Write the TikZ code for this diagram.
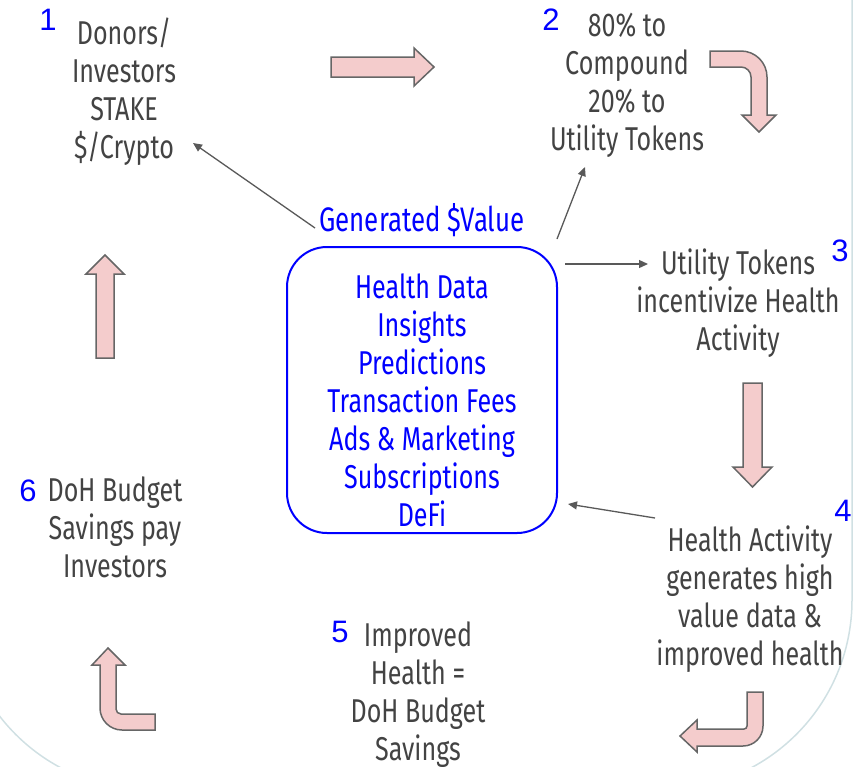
\documentclass[tikz,border=0pt]{standalone}
\usepackage{fontspec}
\usetikzlibrary{arrows.meta}
\newfontfamily\oswf[FakeStretch=0.76]{Fira Sans}
\newfontfamily\numf{Liberation Sans}
\definecolor{txtgray}{HTML}{434343}
\definecolor{pinkfill}{HTML}{F4CCCC}
\definecolor{arrgray}{HTML}{666666}
\definecolor{linegray}{HTML}{595959}
\definecolor{bordercol}{HTML}{D0E0E3}
\definecolor{pureblue}{HTML}{0000FF}
\begin{document}
\begin{tikzpicture}[x=1pt,y=-1pt,
  lbl/.style={font=\oswf\fontsize{33}{38}\selectfont, text=txtgray, align=center, inner sep=0pt, anchor=north},
  bluelbl/.style={lbl, text=pureblue},
  num/.style={font=\numf\fontsize{31}{36}\selectfont, text=pureblue, inner sep=0pt},
  blockarrow/.style={fill=pinkfill, draw=arrgray, line width=1.5pt, line join=miter},
  conn/.style={draw=linegray, line width=1.3pt, -{Triangle[length=9pt,width=8pt]}},
]
\useasboundingbox (0,0) rectangle (861,766);
\begin{scope}
  \clip (0,0) rectangle (861,766);
  \draw[bordercol, line width=1.5pt, rounded corners=190pt] (-40,-400) rectangle (852,790);
\end{scope}

% block arrows
\path[blockarrow] (331,57) -- (414,57) -- (414,48) -- (434,67) -- (414,86) -- (414,77) -- (331,77) -- cycle;
\path[blockarrow] (710,51) -- (741,51) arc (270:360:26) -- (767,115) -- (776,115) -- (759,132) -- (742,115) -- (751,115) -- (751,77) arc (0:-90:10) -- (710,67) -- cycle;
\path[blockarrow] (743,383) -- (762,383) -- (762,467) -- (772,467) -- (752.5,487) -- (733,467) -- (743,467) -- cycle;
\path[blockarrow] (747,692) -- (763,692) -- (763,726) arc (0:90:20) -- (697,746) -- (697,752) -- (680,736) -- (697,720) -- (697,729) -- (744,729) arc (90:0:3) -- cycle;
\path[blockarrow] (155,714) -- (155,730) -- (122,730) arc (90:180:22) -- (100,665) -- (92,665) -- (108,648) -- (125,665) -- (116,665) -- (116,709) arc (180:90:5) -- cycle;
\path[blockarrow] (96,358) -- (96,274) -- (86,274) -- (105,255) -- (124,274) -- (114,274) -- (114,358) -- cycle;

% texts
\node[num] (n1) at (48,20) {1};
\node[lbl] (t1) at (124,18) {Donors/\\Investors\\STAKE\\\$/Crypto};
\node[num] (n2) at (551,20) {2};
\node[lbl] (t2) at (627,13) {80\% to\\Compound\\20\% to\\Utility Tokens};
\node[num] (n3) at (840,251) {3};
\node[lbl] (t3) at (738,249) {Utility Tokens\\incentivize Health\\Activity};
\node[num] (n4) at (843,511) {4};
\node[lbl] (t4) at (750,526) {Health Activity\\generates high\\value data \&\\improved health};
\node[num] (n5) at (340,632) {5};
\node[lbl] (t5) at (418,622) {Improved\\Health =\\DoH Budget\\Savings};
\node[num] (n6) at (28,491) {6};
\node[lbl] (t6) at (115,477) {DoH Budget\\Savings pay\\Investors};
\node[bluelbl, font=\oswf\fontsize{34}{38}\selectfont] (gen) at (422,203) {Generated \$Value};
\node[draw=pureblue, line width=2pt, rounded corners=40pt, minimum width=270pt, minimum height=286pt, inner sep=0pt] (box) at (422,390) {};
\node[bluelbl] (boxtxt) at (422,274) {Health Data\\Insights\\Predictions\\Transaction Fees\\Ads \& Marketing\\Subscriptions\\DeFi};

% connectors
\coordinate (c1a) at (315,228); \coordinate (c1b) at (193,143);
\coordinate (c2a) at (557,239); \coordinate (c2b) at (585,167);
\coordinate (c3a) at (565,264); \coordinate (c3b) at (648,264);
\coordinate (c4a) at (655,518); \coordinate (c4b) at (568,504);
\draw[conn] (c1a) -- (c1b);
\draw[conn] (c2a) -- (c2b);
\draw[conn] (c3a) -- (c3b);
\draw[conn] (c4a) -- (c4b);
\end{tikzpicture}
\end{document}
